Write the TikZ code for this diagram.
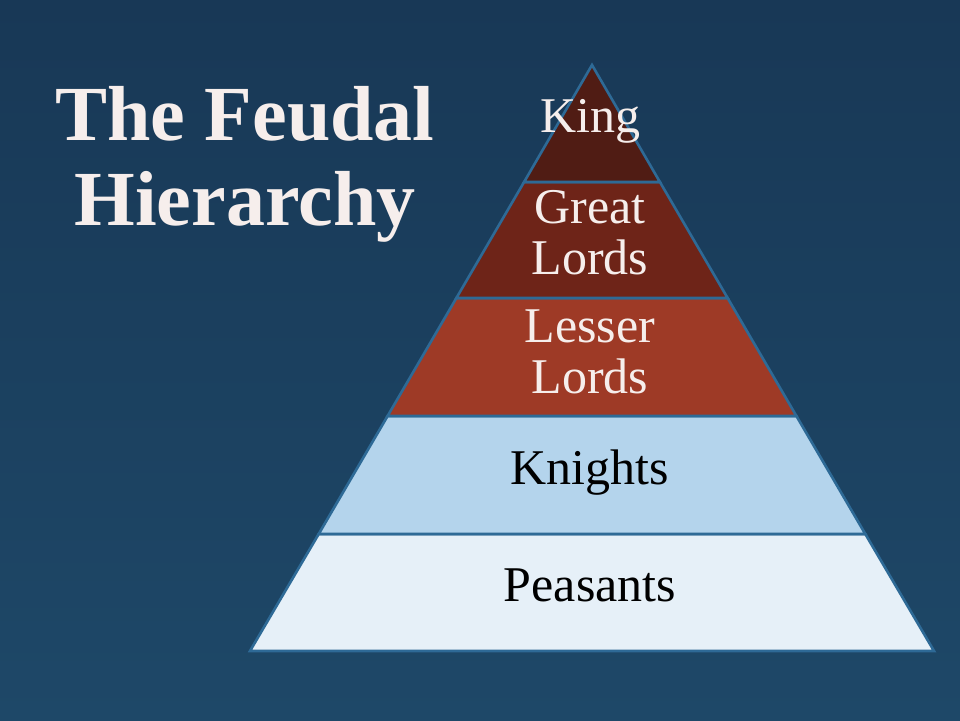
\documentclass[tikz,border=0pt]{standalone}
\usepackage{fontspec}
\setmainfont{Liberation Serif}
\definecolor{bgA}{RGB}{24,56,86}
\definecolor{bgB}{RGB}{30,72,104}
\definecolor{edge}{RGB}{46,106,150}
\definecolor{cKing}{RGB}{80,28,20}
\definecolor{cGreat}{RGB}{110,36,24}
\definecolor{cLesser}{RGB}{158,58,38}
\definecolor{cKnight}{RGB}{180,212,236}
\definecolor{cPeasant}{RGB}{230,240,248}
\definecolor{titlec}{RGB}{246,238,236}
\begin{document}
\begin{tikzpicture}[x=1pt,y=-1pt,
  layer/.style={draw=edge,line width=2.6pt,line join=miter},
  lbl/.style={font=\fontsize{50}{50.5}\selectfont,align=center,inner sep=0pt,anchor=base}]
\useasboundingbox (0,0) rectangle (960,720);
\shade[top color=bgA,bottom color=bgB] (0,0) rectangle (960,720);
\coordinate (apex) at (592,65);
\coordinate (l1) at (524.1,182); \coordinate (r1) at (659.9,182);
\coordinate (l2) at (456.4,298); \coordinate (r2) at (727.6,298);
\coordinate (l3) at (387.6,416); \coordinate (r3) at (796.4,416);
\coordinate (l4) at (318.7,534); \coordinate (r4) at (865.3,534);
\coordinate (l5) at (250,651); \coordinate (r5) at (934,651);
\filldraw[layer,fill=cPeasant] (l4) -- (r4) -- (r5) -- (l5) -- cycle;
\filldraw[layer,fill=cKnight] (l3) -- (r3) -- (r4) -- (l4) -- cycle;
\filldraw[layer,fill=cLesser] (l2) -- (r2) -- (r3) -- (l3) -- cycle;
\filldraw[layer,fill=cGreat] (l1) -- (r1) -- (r2) -- (l2) -- cycle;
\filldraw[layer,fill=cKing] (apex) -- (r1) -- (l1) -- cycle;
\node[lbl,text=titlec] (king) at (590,132) {King};
\node[lbl,text=titlec] (great) at (590,274) {Great\\Lords};
\node[lbl,text=titlec] (lesser) at (590,393) {Lesser\\Lords};
\node[lbl,text=black] (knights) at (590,484) {Knights};
\node[lbl,text=black] (peasants) at (590,601) {Peasants};
\node[align=center,anchor=base,text=titlec,font=\fontsize{78}{85}\selectfont\bfseries,inner sep=0pt] (title) at (245,225) {The Feudal\\Hierarchy};
\end{tikzpicture}
\end{document}
